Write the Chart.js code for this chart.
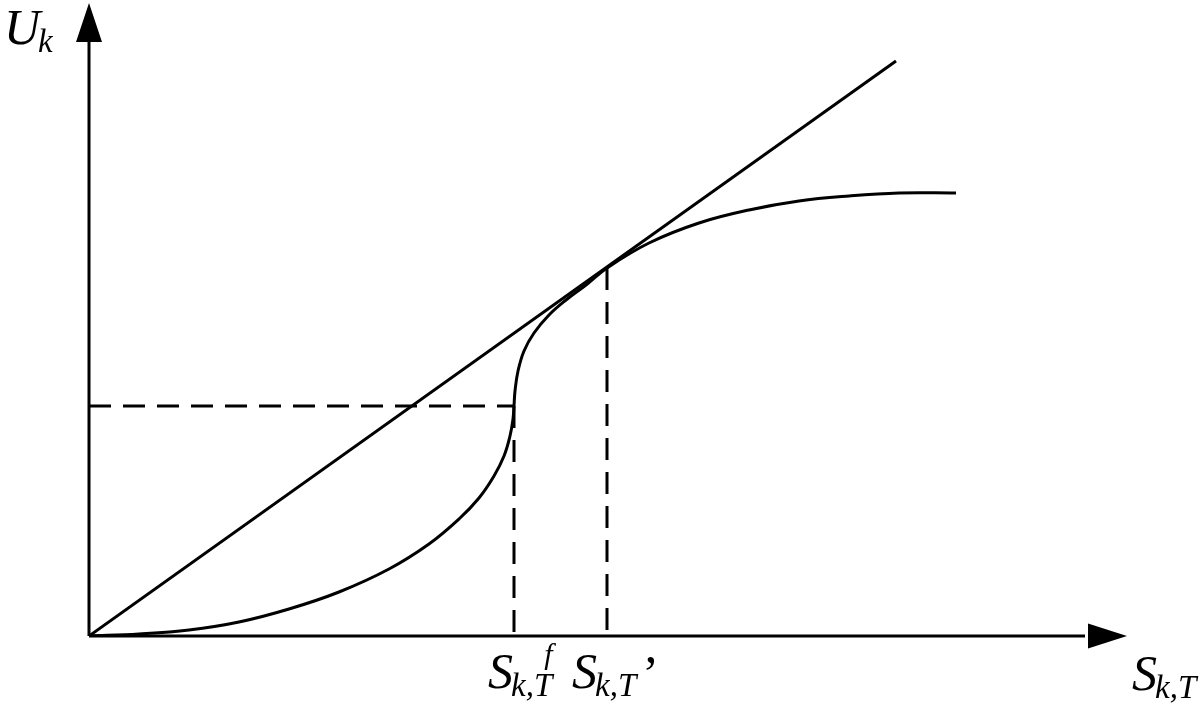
<!DOCTYPE html>
<html>
<head>
<meta charset="utf-8">
<script src="https://cdn.jsdelivr.net/npm/chart.js@4/dist/chart.umd.min.js"></script>
<style>
  html, body { margin: 0; padding: 0; background: #fff; }
  canvas { display: block; }
</style>
</head>
<body>
<canvas id="utilChart" width="1200" height="703"></canvas>
<script>
// curve U_k(S_k,T) (1 unit = 100 px)
const curveX = [0, 0.5, 1.0, 1.5, 2.0, 2.5, 3.0, 3.4, 3.7, 3.9, 4.05, 4.15, 4.21, 4.24, 4.25, 4.26, 4.29, 4.35, 4.45, 4.60, 4.77, 4.97, 5.18, 5.60, 6.10, 6.60, 7.10, 7.60, 8.10, 8.67];
const curveY = [0, 0.02, 0.06, 0.14, 0.27, 0.44, 0.67, 0.92, 1.17, 1.38, 1.60, 1.80, 2.00, 2.17, 2.30, 2.45, 2.65, 2.85, 3.03, 3.21, 3.36, 3.51, 3.68, 3.93, 4.13, 4.26, 4.35, 4.40, 4.43, 4.43];

// straight line through origin, tangent to the curve
const tangentX = [0, 8.07];
const tangentY = [0, 5.75];

// marked points
const sFlex = 4.25;    // S_k,T^f
const uFlex = 2.30;
const sTouch = 5.18;   // S_k,T'
const uTouch = 3.68;

const xMax = 10.26;
const yMax = 6.26;

function toPoints(xs, ys) {
    return xs.map((x, i) => ({ x: x, y: ys[i] }));
}

const serif = '"Liberation Serif", "DejaVu Serif", serif';

// draws the axes with arrow heads and the math labels
const axesPlugin = {
    id: 'axesPlugin',
    afterDraw(chart) {
        const ctx = chart.ctx;
        const xs = chart.scales.x;
        const ys = chart.scales.y;
        const ox = xs.getPixelForValue(0);
        const oy = ys.getPixelForValue(0);
        const xEnd = xs.getPixelForValue(xMax);
        const yEnd = ys.getPixelForValue(yMax);

        ctx.save();
        ctx.strokeStyle = '#000';
        ctx.fillStyle = '#000';
        ctx.lineWidth = 3;

        ctx.beginPath();
        ctx.moveTo(ox, oy);
        ctx.lineTo(xEnd - 30, oy);
        ctx.moveTo(ox, oy);
        ctx.lineTo(ox, yEnd + 32);
        ctx.stroke();

        // x arrow
        ctx.beginPath();
        ctx.moveTo(xEnd + 12, oy);
        ctx.lineTo(xEnd - 27, oy - 12.5);
        ctx.lineTo(xEnd - 27, oy + 12.5);
        ctx.closePath();
        ctx.fill();

        // y arrow
        ctx.beginPath();
        ctx.moveTo(ox, yEnd - 7);
        ctx.lineTo(ox - 13, yEnd + 32);
        ctx.lineTo(ox + 13, yEnd + 32);
        ctx.closePath();
        ctx.fill();

        ctx.textBaseline = 'alphabetic';
        ctx.textAlign = 'left';

        // main letter with italic subscript, returns right edge
        function label(x, y, main, sub) {
            ctx.font = 'italic 50px ' + serif;
            ctx.fillText(main, x, y);
            const w = ctx.measureText(main).width;
            ctx.font = 'italic 33px ' + serif;
            ctx.fillText(sub, x + w - 2, y + 8);
            return x + w - 2 + ctx.measureText(sub).width;
        }

        label(4, 44, 'U', 'k');
        const r1 = label(488, 688, 'S', 'k,T');
        ctx.font = 'italic 30px ' + serif;
        ctx.fillText('f', r1 - 8, 664);
        const r2 = label(572, 688, 'S', 'k,T');
        ctx.font = '50px ' + serif;
        ctx.fillText('\u2019', r2 + 6, 690);
        label(1132, 690, 'S', 'k,T');
        ctx.restore();
    }
};

const lineStyle = {
    borderColor: '#000',
    borderWidth: 3,
    pointRadius: 0,
    showLine: true,
    fill: false
};

new Chart(document.getElementById('utilChart').getContext('2d'), {
    type: 'scatter',
    data: {
        datasets: [
            Object.assign({ label: 'U', data: toPoints(curveX, curveY), tension: 0.4 }, lineStyle),
            Object.assign({ label: 'tangent', data: toPoints(tangentX, tangentY), tension: 0 }, lineStyle),
            Object.assign({ label: 'h-dash', data: toPoints([0, sFlex], [uFlex, uFlex]), borderDash: [22, 12] }, lineStyle),
            Object.assign({ label: 'v-dash-f', data: toPoints([sFlex, sFlex], [uFlex, 0]), borderDash: [22, 12] }, lineStyle),
            Object.assign({ label: 'v-dash-t', data: toPoints([sTouch, sTouch], [uTouch, 0]), borderDash: [22, 12] }, lineStyle)
        ]
    },
    options: {
        responsive: false,
        animation: false,
        devicePixelRatio: 1,
        layout: { padding: { left: 89, right: 85, top: 10, bottom: 67 } },
        scales: {
            x: { type: 'linear', min: 0, max: xMax, display: false },
            y: { type: 'linear', min: 0, max: yMax, display: false }
        },
        plugins: {
            legend: { display: false },
            tooltip: { enabled: false }
        }
    },
    plugins: [axesPlugin]
});
</script>
</body>
</html>
